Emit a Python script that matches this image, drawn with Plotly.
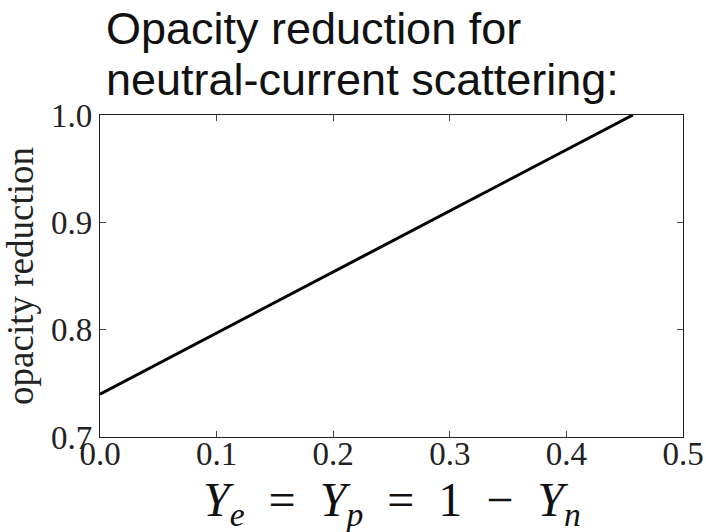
import plotly.graph_objects as go

# Opacity reduction versus electron fraction (Y_e = Y_p = 1 - Y_n)
ye_values = [0.0, 0.1, 0.2, 0.3, 0.4, 0.457]
opacity_reduction = [0.740, 0.797, 0.854, 0.911, 0.968, 1.000]

x_ticks = [0.0, 0.1, 0.2, 0.3, 0.4, 0.5]
x_tick_text = ["0.0", "0.1", "0.2", "0.3", "0.4", "0.5"]
y_ticks = [0.7, 0.8, 0.9, 1.0]
y_tick_text = ["0.7", "0.8", "0.9", "1.0"]

title_lines = ["Opacity reduction for", "neutral-current scattering:"]
x_title = ("<i>Y</i><sub><i>e</i></sub>&nbsp; = &nbsp;<i>Y</i><sub><i>p</i></sub>&nbsp; = &nbsp;1"
           "&nbsp; − &nbsp;<i>Y</i><sub><i>n</i></sub>")

serif = "Liberation Serif, Times New Roman, serif"
sans = "Liberation Sans, Arial, sans-serif"

fig = go.Figure()
fig.add_trace(go.Scatter(
    x=ye_values, y=opacity_reduction, mode="lines",
    line=dict(color="black", width=3), cliponaxis=True, showlegend=False,
))

axis_common = dict(
    showgrid=False, zeroline=False, showline=True, linecolor="#222",
    linewidth=1.3, mirror="ticks", ticks="inside", ticklen=6, tickwidth=1,
    tickcolor="#444", tickfont=dict(family=serif, size=33, color="#222"),
    automargin=False,
)

fig.update_xaxes(
    range=[0, 0.5], tickvals=x_ticks, ticktext=x_tick_text,
    ticklabelstandoff=-13,
    **axis_common,
)
fig.update_yaxes(
    range=[0.7, 1.0], tickvals=y_ticks, ticktext=y_tick_text,
    title=dict(text="opacity reduction", font=dict(family=serif, size=37, color="#222")),
    **axis_common,
)

# x-axis label drawn as an annotation for precise placement
fig.add_annotation(
    text=x_title, xref="paper", yref="paper", x=0.5, y=-(471 - 437) / 322,
    xanchor="center", yanchor="top", showarrow=False,
    font=dict(family=serif, size=48, color="#111"),
)

for i, line in enumerate(title_lines):
    fig.add_annotation(
        text=line, xref="paper", yref="paper", x=(104 - 100) / 583, y=1 + (115 - (56 + 51 * i)) / 322,
        xanchor="left", yanchor="bottom", showarrow=False,
        font=dict(family=sans, size=45, color="#111"),
    )

fig.update_layout(
    width=706, height=532, autosize=False,
    margin=dict(l=100, r=23, t=115, b=95),
    paper_bgcolor="white", plot_bgcolor="white",
)

fig.write_html("out.html")
